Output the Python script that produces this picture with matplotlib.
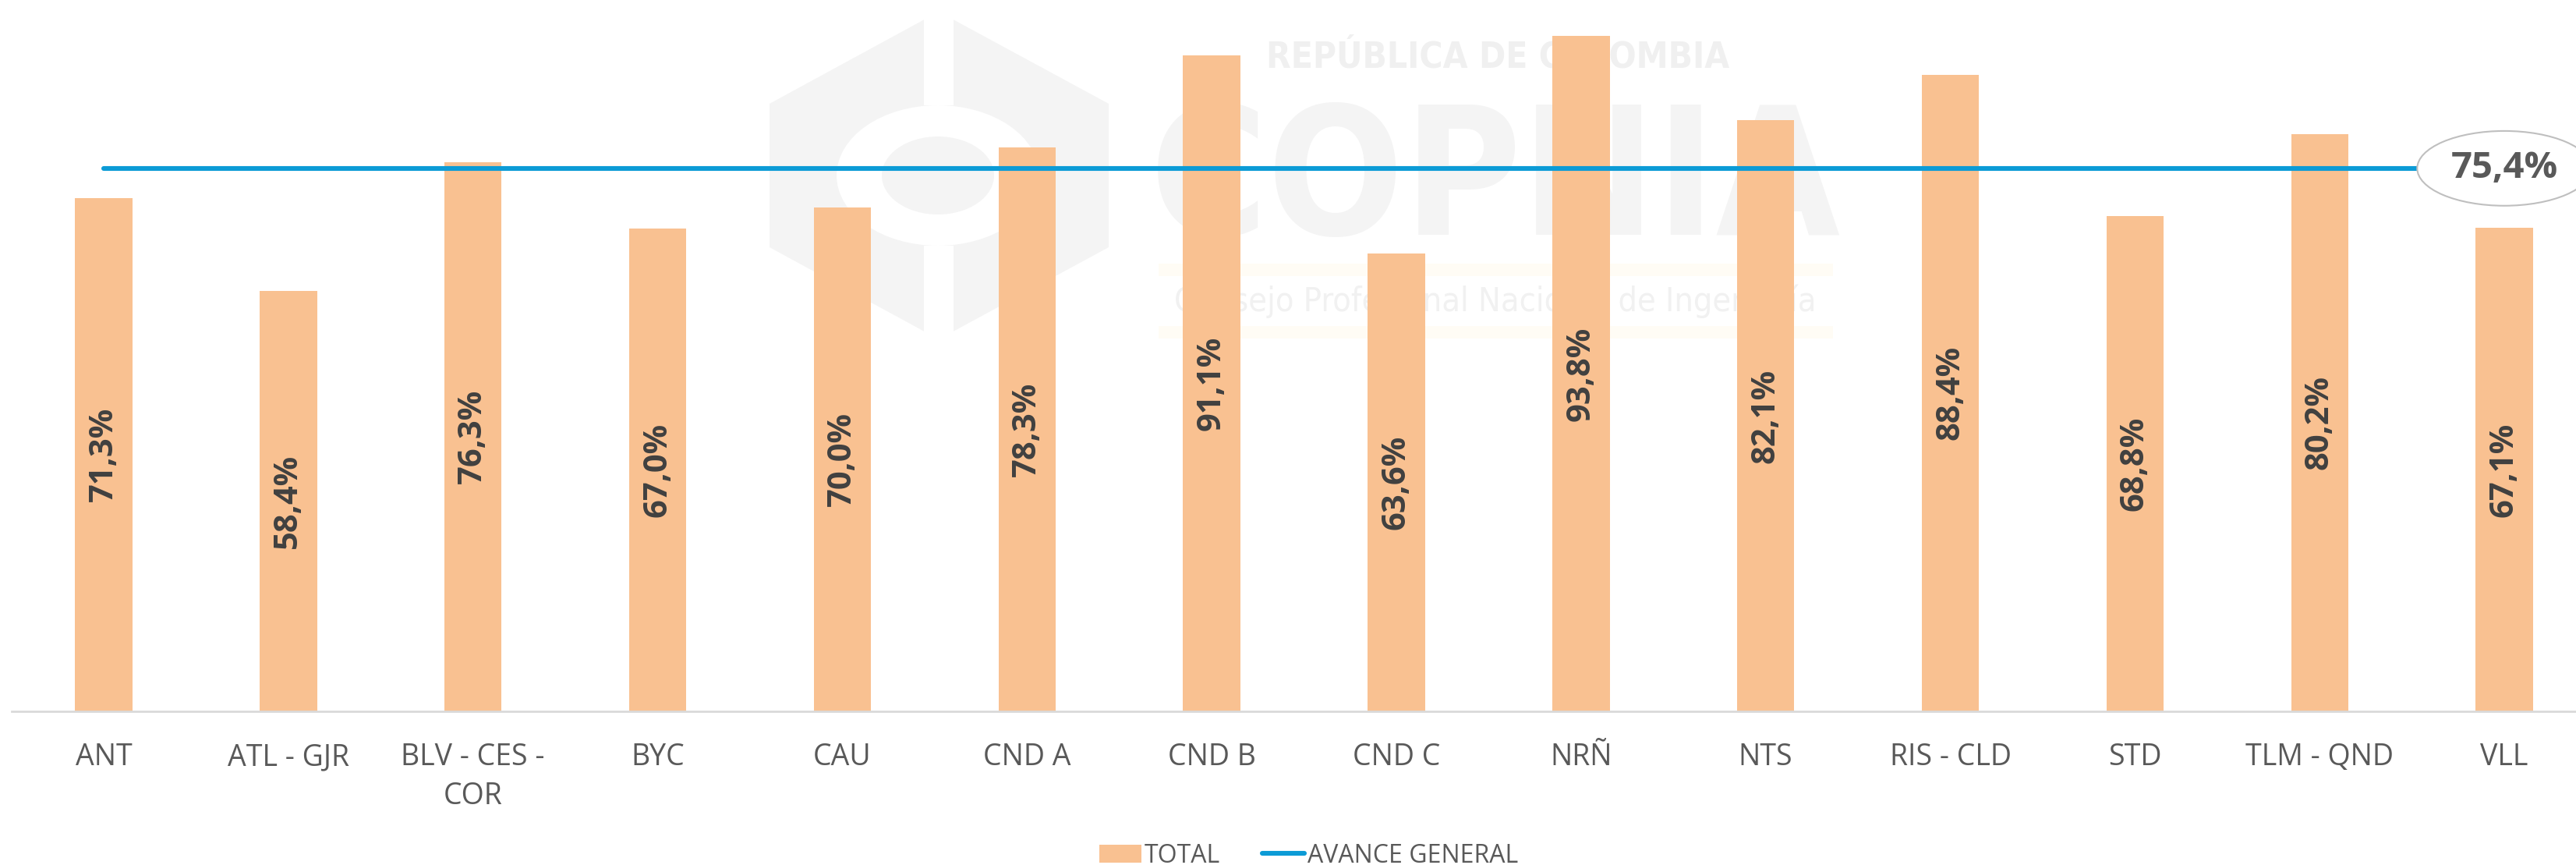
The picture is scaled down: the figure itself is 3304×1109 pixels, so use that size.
import matplotlib.pyplot as plt
from matplotlib.patches import Polygon, Ellipse, Rectangle
from matplotlib.transforms import Affine2D

categorias = ['ANT', 'ATL - GJR', 'BLV - CES -\nCOR', 'BYC', 'CAU', 'CND A', 'CND B',
              'CND C', 'NRÑ', 'NTS', 'RIS - CLD', 'STD', 'TLM - QND', 'VLL']
total = [71.3, 58.4, 76.3, 67.0, 70.0, 78.3, 91.1, 63.6, 93.8, 82.1, 88.4, 68.8, 80.2, 67.1]
avance_general = [75.4, 75.4, 75.4, 75.4, 75.4, 75.4, 75.4,
                  75.4, 75.4, 75.4, 75.4, 75.4, 75.4, 75.4]

naranja = '#F9C191'
azul = '#0C9BD6'
gris_txt = '#595959'

W, H = 3304, 1109
fig = plt.figure(figsize=(W / 100, H / 100), dpi=100)

# marca de agua (logo COPNIA) en pixeles desde arriba-izquierda
px = Affine2D().scale(1 / W, -1 / H).translate(0, 1) + fig.transFigure
wm = '#f4f4f4'
hexa = Polygon([(1204, 15), (1422, 133), (1422, 317), (1204, 435), (987, 317), (987, 133)],
               closed=True, transform=px, facecolor=wm, edgecolor='none', zorder=-5)
fig.patches.append(hexa)
for y0, y1 in [(10, 135), (315, 440)]:
    fig.patches.append(Rectangle((1185, y0), 38, y1 - y0, transform=px,
                                 facecolor='white', edgecolor='none', zorder=-4))
fig.patches.append(Ellipse((1203, 225), 260, 180, transform=px,
                           facecolor='white', edgecolor='none', zorder=-3))
fig.patches.append(Ellipse((1203, 225), 144, 100, transform=px,
                           facecolor=wm, edgecolor='none', zorder=-2))
for y0 in [338, 418]:
    fig.patches.append(Rectangle((1486, y0), 865, 16, transform=px,
                                 facecolor='#fffcf5', edgecolor='none', zorder=-4))
fig.text(1921, 74, 'REPÚBLICA DE COLOMBIA', transform=px, ha='center', va='center',
         fontsize=33, fontweight='bold', fontstretch='condensed', color='#f0f0f0',
         family='DejaVu Sans', zorder=-2)
fig.text(1918, 238, 'COPNIA', transform=px, ha='center', va='center',
         fontsize=165, fontweight='bold', fontstretch='condensed', color=wm,
         family='DejaVu Sans', zorder=-2)
fig.text(1918, 386, 'Consejo Profesional Nacional de Ingeniería', transform=px,
         ha='center', va='center', fontsize=31, fontstretch='condensed', color='#f1f1f1',
         family='DejaVu Sans', zorder=-2)

# grafico
ax = fig.add_axes([14.6 / W, (H - 912) / H, 14 * 236.85 / W, 912 / H])
ax.patch.set_alpha(0)
x = list(range(len(categorias)))
barras = ax.bar(x, total, width=0.31, color=naranja, label='TOTAL', zorder=2)
linea, = ax.plot(x, avance_general, color=azul, lw=4.4, solid_capstyle='round',
                 label='AVANCE GENERAL', zorder=3)

for b, v in zip(barras, total):
    ax.text(b.get_x() + b.get_width() / 2, v / 2, f'{v:.1f}%'.replace('.', ','),
            rotation=90, ha='center', va='center', fontsize=30, fontweight='bold',
            color='#404040', family='Open Sans', zorder=4)

ax.text(x[-1], avance_general[-1], f'{avance_general[-1]:.1f}%'.replace('.', ','),
        ha='center', va='center', fontsize=34, fontweight='bold', color=gris_txt,
        family='Open Sans', zorder=5,
        bbox=dict(boxstyle='ellipse,pad=0.22', facecolor='white', edgecolor='#bfbfbf', lw=1.5))

ax.set_xlim(-0.5, 13.5)
ax.set_ylim(0, 912 / 9.233)
ax.set_yticks([])
ax.set_xticks(x)
ax.set_xticklabels(categorias, fontsize=27, color=gris_txt, family='Open Sans', linespacing=1.4)
ax.tick_params(axis='x', length=0, pad=29)
for s in ['top', 'right', 'left']:
    ax.spines[s].set_visible(False)
ax.spines['bottom'].set_color('#d9d9d9')
ax.spines['bottom'].set_linewidth(2)

leg = fig.legend(handles=[barras, linea], loc='lower center', bbox_to_anchor=(0.508, -0.03),
                 ncol=2, frameon=False, prop={'family': 'Open Sans', 'size': 23},
                 handlelength=1.7, handletextpad=0.1, columnspacing=1.7)
for t in leg.get_texts():
    t.set_color(gris_txt)

fig.savefig('out.png', dpi=100)
